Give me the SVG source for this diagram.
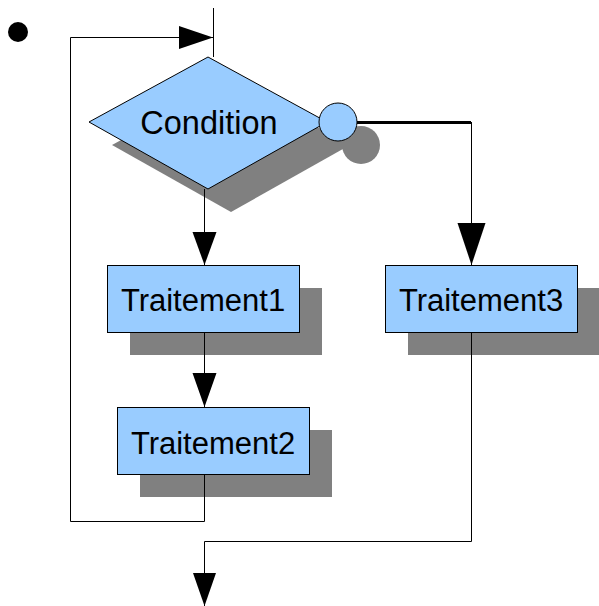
<svg xmlns="http://www.w3.org/2000/svg" width="599" height="606" viewBox="0 0 599 606">
<style>
.shape{fill:#99ccff;stroke:#000;stroke-width:1}
.shadow{fill:#808080;stroke:none}
.lbl{font-family:"Liberation Sans",Arial,sans-serif;font-size:31px;fill:#000;text-anchor:middle}
.conn{fill:none;stroke:#000;stroke-width:1}
.head{fill:#000;stroke:none}
</style>
<rect width="599" height="606" fill="#fff"/>
<g id="start"><circle cx="18" cy="32" r="10" fill="#000"/></g>
<g id="condition">
<polygon class="shadow" points="231,80 350,145 231,212 112,145"/>
<circle class="shadow" cx="361" cy="145" r="19"/>
<polygon class="shape" points="208,57 327,122 208,189 89,122"/>
<circle class="shape" cx="338" cy="122" r="19"/>
<text class="lbl" x="209" y="134" style="font-size:32.5px">Condition</text>
</g>
<g id="traitement1">
<rect class="shadow" x="130" y="288" width="192" height="67"/>
<rect class="shape" x="107.5" y="265.5" width="192" height="67"/>
<text class="lbl" x="203" y="311">Traitement1</text>
</g>
<g id="traitement2">
<rect class="shadow" x="140" y="430" width="192" height="67"/>
<rect class="shape" x="117.5" y="407.5" width="192" height="67"/>
<text class="lbl" x="213" y="454">Traitement2</text>
</g>
<g id="traitement3">
<rect class="shadow" x="408" y="288" width="192" height="67"/>
<rect class="shape" x="385.5" y="265.5" width="192" height="67"/>
<text class="lbl" x="481" y="311">Traitement3</text>
</g>
<g id="connectors">
<path class="conn" d="M213.5,8 V57"/>
<path class="conn" d="M204.5,189 V265"/>
<polygon class="head" points="192.5,232 216.5,232 204.5,265"/>
<path class="conn" d="M204.5,332 V407"/>
<polygon class="head" points="192.5,373 216.5,373 204.5,407"/>
<path class="conn" d="M204.5,474 V521.5 H70.5 V37.5 H213"/>
<polygon class="head" points="179,26 179,49 213,37.5"/>
<path fill="none" stroke="#000" stroke-width="3" d="M357,122.5 H471"/>
<path class="conn" d="M471.5,122 V265"/>
<polygon class="head" points="457.5,223 485.5,223 471.5,265"/>
<path class="conn" d="M471.5,332 V541.5 H204.5 V606"/>
<polygon class="head" points="193,573 216,573 204.5,606"/>
</g>
</svg>
